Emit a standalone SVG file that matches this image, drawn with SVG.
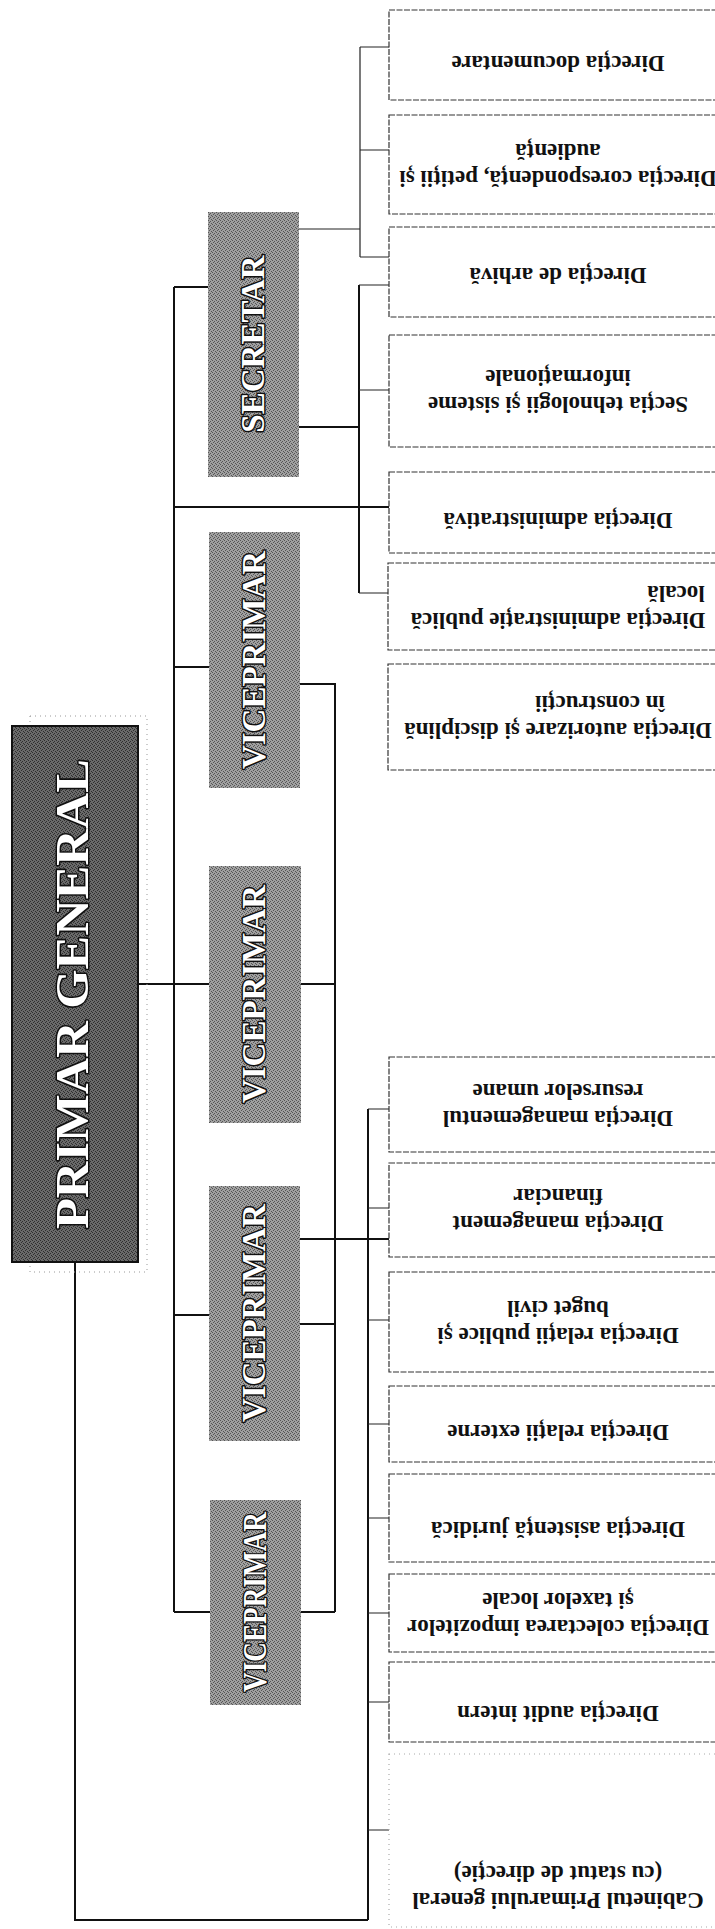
<svg xmlns="http://www.w3.org/2000/svg" width="715" height="1929" viewBox="0 0 715 1929">
<defs>
<pattern id="dith" width="4" height="4" patternUnits="userSpaceOnUse">
<rect width="4" height="4" fill="#a0a0a0"/>
<rect x="0" y="0" width="1" height="1" fill="#555"/>
<rect x="2" y="1" width="1" height="1" fill="#555"/>
<rect x="1" y="2" width="1" height="1" fill="#555"/>
<rect x="3" y="3" width="1" height="1" fill="#555"/>
</pattern>
<pattern id="dithdark" width="4" height="4" patternUnits="userSpaceOnUse">
<rect width="4" height="4" fill="#6a6a6a"/>
<rect x="0" y="0" width="1" height="1" fill="#2e2e2e"/>
<rect x="2" y="1" width="1" height="1" fill="#2e2e2e"/>
<rect x="1" y="2" width="1" height="1" fill="#2e2e2e"/>
<rect x="3" y="3" width="1" height="1" fill="#2e2e2e"/>
</pattern>
</defs>
<style>
.dept rect{fill:#fff;stroke:#333;stroke-width:1.2;stroke-dasharray:6 1.5}
.dept text{font-family:"Liberation Serif","Times New Roman",serif;font-weight:bold;font-size:23px;fill:#111;text-anchor:middle}
.head rect{fill:url(#dith)}
.head text{font-family:"Liberation Serif","Times New Roman",serif;font-weight:bold;font-size:33px;fill:#fff;stroke:#111;stroke-width:3;paint-order:stroke;stroke-linejoin:round;text-anchor:middle}
#primar rect.box{fill:url(#dithdark);stroke:#111;stroke-width:2}
#primar rect.faint{fill:none;stroke:#999;stroke-width:1;stroke-dasharray:1 4}
#primar text{font-size:46px}
.thick{stroke:#111;stroke-width:2;fill:none}
.thin{stroke:#222;stroke-width:1.2;fill:none}
</style>
<rect width="715" height="1929" fill="#fff"/>

<g id="connectors">
  <path class="thin" d="M299 229H360M360 47V257M360 47H389M360 150H389M360 257H389"/>
  <path class="thick" d="M359 285V593M299 427H359M174 507H389"/>
  <path class="thin" d="M359 285H389M359 390H389M359 593H388"/>
  <path class="thick" d="M174 287V1612M174 287H208M174 667H209M138 984H209M174 1315H209M174 1612H210"/>
  <path class="thick" d="M300 684H335V1612M301 984H335M300 1324H335M301 1612H335"/>
  <path class="thick" d="M300 1239H389M368 1109V1920"/>
  <path class="thin" d="M368 1109H389M368 1208H389M368 1320H389M368 1424H389M368 1518H389M368 1613H389M368 1702H389M368 1830H389"/>
  <path class="thick" d="M75 1262V1920H368"/>
</g>

<g id="primar" class="head">
  <rect class="faint" x="30" y="716" width="117" height="556"/>
  <rect class="box" x="12" y="726" width="126" height="536"/>
  <text transform="translate(88,994) rotate(-90)" textLength="470" lengthAdjust="spacingAndGlyphs">PRIMAR GENERAL</text>
</g>
<g id="secretar" class="head">
  <rect x="208" y="212" width="91" height="265"/>
  <text transform="translate(264,344) rotate(-90)">SECRETAR</text>
</g>
<g id="viceprimar1" class="head">
  <rect x="209" y="532" width="91" height="256"/>
  <text transform="translate(265,660) rotate(-90)">VICEPRIMAR</text>
</g>
<g id="viceprimar2" class="head">
  <rect x="209" y="866" width="92" height="257"/>
  <text transform="translate(265,994) rotate(-90)">VICEPRIMAR</text>
</g>
<g id="viceprimar3" class="head">
  <rect x="209" y="1186" width="91" height="255"/>
  <text transform="translate(265,1313) rotate(-90)">VICEPRIMAR</text>
</g>
<g id="viceprimar4" class="head">
  <rect x="210" y="1500" width="91" height="205"/>
  <text transform="translate(266,1602) rotate(-90)" textLength="180" lengthAdjust="spacingAndGlyphs">VICEPRIMAR</text>
</g>

<g id="d-documentare" class="dept">
  <rect x="389" y="10" width="360" height="90"/>
  <text transform="translate(558,56) rotate(180)">Direcția documentare</text>
</g>
<g id="d-corespondenta" class="dept">
  <rect x="389" y="115" width="360" height="99"/>
  <text transform="translate(558,171) rotate(180)">Direcția corespondență, petiții și<tspan x="0" dy="27">audiență</tspan></text>
</g>
<g id="d-arhiva" class="dept">
  <rect x="389" y="227" width="360" height="90"/>
  <text transform="translate(558,268) rotate(180)">Direcția de arhivă</text>
</g>
<g id="d-tehnologii" class="dept">
  <rect x="389" y="335" width="360" height="112"/>
  <text transform="translate(558,397) rotate(180)">Secția tehnologii și sisteme<tspan x="0" dy="27">informaționale</tspan></text>
</g>
<g id="d-administrativa" class="dept">
  <rect x="389" y="472" width="360" height="81"/>
  <text transform="translate(558,513) rotate(180)">Direcția administrativă</text>
</g>
<g id="d-apl" class="dept">
  <rect x="388" y="563" width="360" height="87"/>
  <text transform="translate(558,613) rotate(180)">Direcția administrație publică<tspan x="-118" dy="27">locală</tspan></text>
</g>
<g id="d-autorizare" class="dept">
  <rect x="388" y="664" width="360" height="106"/>
  <text transform="translate(558,723) rotate(180)">Direcția autorizare și disciplină<tspan x="-42" dy="27">în construcții</tspan></text>
</g>
<g id="d-resurse" class="dept">
  <rect x="389" y="1057" width="360" height="95"/>
  <text transform="translate(558,1111) rotate(180)">Direcția managementul<tspan x="0" dy="27">resurselor umane</tspan></text>
</g>
<g id="d-financiar" class="dept">
  <rect x="389" y="1163" width="360" height="94"/>
  <text transform="translate(558,1216) rotate(180)">Direcția management<tspan x="0" dy="27">financiar</tspan></text>
</g>
<g id="d-relatii-publice" class="dept">
  <rect x="389" y="1272" width="360" height="100"/>
  <text transform="translate(558,1328) rotate(180)">Direcția relații publice și<tspan x="0" dy="27">buget civil</tspan></text>
</g>
<g id="d-relatii-externe" class="dept">
  <rect x="389" y="1386" width="360" height="76"/>
  <text transform="translate(558,1425) rotate(180)">Direcția relații externe</text>
</g>
<g id="d-juridica" class="dept">
  <rect x="389" y="1474" width="360" height="88"/>
  <text transform="translate(558,1522) rotate(180)">Direcția asistență juridică</text>
</g>
<g id="d-colectare" class="dept">
  <rect x="389" y="1574" width="360" height="78"/>
  <text transform="translate(558,1620) rotate(180)">Direcția colectarea impozitelor<tspan x="0" dy="27">și taxelor locale</tspan></text>
</g>
<g id="d-audit" class="dept">
  <rect x="389" y="1662" width="360" height="80"/>
  <text transform="translate(558,1706) rotate(180)">Direcția audit intern</text>
</g>
<g id="d-cabinet" class="dept">
  <rect x="389" y="1754" width="360" height="173" style="stroke:#aaa;stroke-dasharray:1 4"/>
  <text transform="translate(558,1893) rotate(180)">Cabinetul Primarului general<tspan x="0" dy="27">(cu statut de direcție)</tspan></text>
</g>
</svg>
